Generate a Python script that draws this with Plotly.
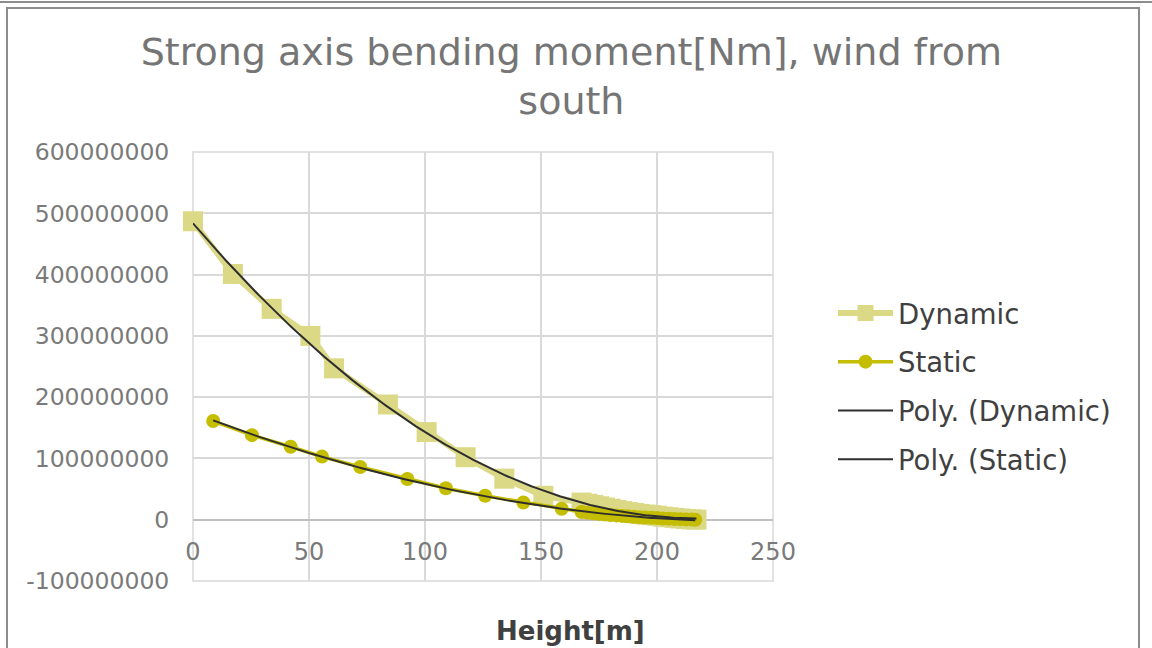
import numpy as np
import plotly.graph_objects as go

# ---- data ----
dyn_x = [0, 17.2, 33.9, 50.6, 60.8, 84.0, 100.7, 117.5, 134.2, 151.0,
         167.5, 170, 172.5, 175, 177.5, 180, 182.5, 185, 187.5, 190, 192.5,
         195, 197.5, 200, 202.5, 205, 207.5, 210, 212.5, 215, 217]
dyn_y = [487e6, 401e6, 344e6, 300e6, 247e6, 188e6, 143e6, 102e6, 67e6, 39e6,
         28e6, 26e6, 24e6, 22e6, 20e6, 18e6, 16e6, 14e6, 12.5e6, 11e6, 9.5e6,
         8.5e6, 7.5e6, 6.5e6, 5e6, 4e6, 3e6, 2e6, 1.2e6, 0.5e6, 0.1e6]

sta_x = [8.7, 25.4, 42.1, 55.6, 72.1, 92.4, 109.0, 125.9, 142.4, 158.9,
         167.5, 170, 172.5, 175, 177.5, 180, 182.5, 185, 187.5, 190, 192.5,
         195, 197.5, 200, 202.5, 205, 207.5, 210, 212.5, 215, 216.5]
sta_y = [161e6, 138e6, 119e6, 103e6, 86e6, 66.5e6, 51.3e6, 39e6, 28.2e6, 18e6,
         12.5e6, 11.5e6, 10.5e6, 9.5e6, 8.6e6, 7.8e6, 7e6, 6.2e6, 5.5e6, 4.8e6, 4.2e6,
         3.6e6, 3.1e6, 2.6e6, 2.1e6, 1.7e6, 1.3e6, 0.9e6, 0.5e6, 0.2e6, 0.05e6]

y_tickvals = [-100000000, 0, 100000000, 200000000, 300000000, 400000000, 500000000, 600000000]
y_ticktext = ["-100000000", "0", "100000000", "200000000", "300000000", "400000000", "500000000", "600000000"]
x_tickvals = [0, 50, 100, 150, 200, 250]
x_ticktext = ["0", "50", "100", "150", "200", "250"]

title_text = "Strong axis bending moment[Nm], wind from<br>south"
x_title = "Height[m]"

# ---- polynomial trendlines (order 2, like Excel "Poly.") ----
def poly_fit(x, y, n=200):
    c = np.polyfit(x, y, 2)
    xs = np.linspace(min(x), max(x), n)
    return xs, np.polyval(c, xs)

pdx, pdy = poly_fit(dyn_x, dyn_y)
psx, psy = poly_fit(sta_x, sta_y)

FONT = "Verdana, DejaVu Sans, sans-serif"
C_DYN = "#DCD986"
C_STA = "#C4BD00"
C_POLY = "#2E2E2E"
GRID = "#D9D9D9"

fig = go.Figure()
fig.add_trace(go.Scatter(x=dyn_x, y=dyn_y, mode="lines+markers", name="Dynamic",
                         line=dict(color=C_DYN, width=6),
                         marker=dict(symbol="square", size=20, color=C_DYN),
                         cliponaxis=False, legendgroup="a"))
fig.add_trace(go.Scatter(x=sta_x, y=sta_y, mode="lines+markers", name="Static",
                         line=dict(color=C_STA, width=3.5),
                         marker=dict(symbol="circle", size=14, color=C_STA),
                         cliponaxis=False, legendgroup="b"))
fig.add_trace(go.Scatter(x=pdx, y=pdy, mode="lines", name="Poly. (Dynamic)",
                         line=dict(color=C_POLY, width=2), legendgroup="c"))
fig.add_trace(go.Scatter(x=psx, y=psy, mode="lines", name="Poly. (Static)",
                         line=dict(color=C_POLY, width=2), legendgroup="d"))

ymin, ymax = -100e6, 600e6
ML, MR, MT, MB = 193, 379, 152, 67
W, H = 1152, 648
PW, PH = W - ML - MR, H - MT - MB

def px(xp):
    return (xp - ML) / PW

def py(yp):
    return (H - MB - yp) / PH

fig.update_layout(
    width=W, height=H,
    margin=dict(l=ML, r=MR, t=MT, b=MB, pad=0),
    paper_bgcolor="white", plot_bgcolor="white",
    font=dict(family=FONT),
    title=dict(text=title_text, x=0.496, xanchor="center", xref="container",
               y=1 - 65 / H, yanchor="top", yref="container",
               font=dict(size=38, color="#757575", family=FONT)),
    xaxis=dict(range=[0, 250], tickvals=x_tickvals, ticktext=x_ticktext,
               showgrid=True, gridcolor=GRID, gridwidth=1.5,
               zeroline=False, showline=False,
               anchor="free", position=(0 - ymin) / (ymax - ymin),
               ticks="outside", ticklen=10, tickcolor="rgba(0,0,0,0)",
               tickfont=dict(size=24, color="#7a7a7a", family=FONT)),
    yaxis=dict(range=[ymin, ymax], tickvals=y_tickvals, ticktext=y_ticktext,
               showgrid=True, gridcolor=GRID, gridwidth=1.5,
               zeroline=True, zerolinecolor="#C0C0C0", zerolinewidth=2,
               showline=False,
               ticks="outside", ticklen=18, tickcolor="rgba(0,0,0,0)",
               tickfont=dict(size=23.5, color="#7a7a7a", family=FONT)),
    legend=dict(x=px(833), xanchor="left", y=py(386), yanchor="middle",
                font=dict(size=27.5, color="#404040", family=FONT),
                bgcolor="rgba(0,0,0,0)", itemwidth=55,
                traceorder="grouped", tracegroupgap=10),
    showlegend=True,
)

fig.add_annotation(text="<b>" + x_title + "</b>", xref="paper", yref="paper",
                   x=px(570), y=py(631), xanchor="center", yanchor="middle",
                   showarrow=False, font=dict(size=26, color="#404040", family=FONT))

# plot-area border in grid colour
fig.add_shape(type="rect", xref="paper", yref="paper", x0=0, x1=1, y0=0, y1=1,
              line=dict(color=GRID, width=1.5), fillcolor="rgba(0,0,0,0)", layer="below")
# chart frame
fig.add_shape(type="rect", xref="paper", yref="paper",
              x0=px(7), x1=px(1139), y0=py(680), y1=py(8),
              line=dict(color="#8C8C8C", width=2), fillcolor="rgba(0,0,0,0)", layer="below")
fig.add_shape(type="line", xref="paper", yref="paper",
              x0=px(-10), x1=px(1162), y0=py(2), y1=py(2),
              line=dict(color="#8C8C8C", width=2))

fig.write_html("out.html", config={"displayModeBar": False},
               post_script="document.body.style.margin='0px';")
